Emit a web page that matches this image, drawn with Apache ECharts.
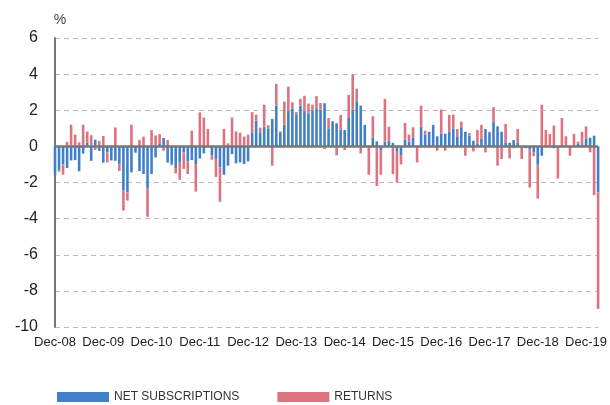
<!DOCTYPE html>
<html>
<head>
<meta charset="utf-8">
<script src="https://cdn.jsdelivr.net/npm/echarts@6.0.0/dist/echarts.min.js"></script>
<style>
  html, body { margin: 0; padding: 0; background: #fff; }
  #chart { width: 610px; height: 405px; }
</style>
</head>
<body>
<div id="chart"></div>
<script>
// monthly, Dec-08 .. Mar-20
const MONTHS = ['Jan', 'Feb', 'Mar', 'Apr', 'May', 'Jun', 'Jul', 'Aug', 'Sep', 'Oct', 'Nov', 'Dec']
const months = []
for (let k = 0; k < 136; k++) {
  const m = (11 + k) % 12
  const y = 8 + Math.floor((11 + k) / 12)
  months.push(MONTHS[m] + '-' + String(y).padStart(2, '0'))
}

const netSubscriptions = [
  -1.6, -1.3, -1.0, -1.2, -0.78, -0.76, -1.38, -0.4, 0.22, -0.8, 0.37, -0.25,
  -0.9, -0.34, -0.78, -0.8, -1.0, -2.45, -2.55, -1.44, -0.35, -1.37, -1.53, -2.35,
  -1.53, -0.61, 0.13, 0.46, -0.9, -1.0, -1.2, -0.9, -0.33, -0.83, -0.76, -0.98,
  -0.67, -0.39, 0, -0.48, -0.7, -1.17, -1.57, -1.07, -0.43, -0.94, -0.89, -0.98,
  -0.83, 0.78, 1.43, 0.78, 1.09, 1.0, 1.52, 2.26, 0.78, 1.2, 1.98, 2.1,
  1.74, 2.26, 2.0, 1.83, 2.0, 2.07, 2.04, 2.39, 1.0, 1.39, 1.28, 0.91,
  0.91, 1.57, 2.04, 2.5, 2.26, 1.19, 0, 0.5, 0.28, -0.24, 0.26, 0.31,
  0.19, -0.3, -0.48, 0.37, 0.26, 0.5, 0, 1.09, 0.65, 0.81, 1.19, 0.56,
  0.7, 0.7, 0.83, 1.0, 0.56, 1.06, 0.81, 0.6, 0.31, 0.17, 0.41, 0.96,
  0.74, 1.37, 1.11, 0.81, 0.22, 0.2, 0.35, 0.22, 0, -0.1, -0.18, -0.32,
  -1.02, -0.52, 0, 0.05, -0.1, 0, 0, 0, 0, 0, 0.13, 0,
  0.44, 0.48, 0.59, -2.55
]

const returns = [
  0, -0.1, -0.57, 0.26, 1.2, 0.65, 0.22, 1.2, 0.6, 0.62, -0.2, 0.3,
  0.58, -0.55, 0, 1.05, -0.36, -1.1, -0.45, 1.2, 0, 0.36, 0.54, -1.55,
  0.9, 0.6, 0.55, -0.24, 0.35, -0.05, -0.3, -0.95, -0.92, -0.7, 0.87, -1.52,
  1.88, 1.6, 0.96, -0.26, -1.0, -1.9, 0.96, 0.17, 1.6, 0.83, 0.76, 0.54,
  0.65, 1.12, 0.33, 0.26, 1.22, 0.17, -1.07, 1.2, 0.05, 1.28, 1.33, 0.34,
  0.16, 0.37, 0.8, 0.54, 0.31, 0.71, 0.36, -0.15, 0.57, 0, -0.5, 0.83,
  -0.2, 1.28, 1.94, 0.69, -0.39, 0, -1.57, 1.17, -2.2, -1.33, 2.37, 0.78,
  -1.54, -1.7, -0.52, 0.93, 0.39, 0.56, -0.89, 1.17, 0.22, 0, 0, -0.24,
  1.34, -0.24, 0.91, 0.76, 0.4, 0.31, -0.52, 0.14, -0.28, 0.74, 0.78, -0.33,
  0.07, 0.8, -1.07, -0.7, 1.02, -0.67, -0.1, 0.74, -0.7, 0, -2.1, -0.22,
  -1.87, 2.31, 0.91, 0.64, 1.15, -1.78, 1.57, 0.56, -0.52, 0.69, 0.13, 0.81,
  0.67, -0.33, -2.7, -6.45
]

const BLUE = '#3f80c8'
const RED = '#de7380'
const FONT = 'Liberation Sans, Arial, sans-serif'

const chart = echarts.init(document.getElementById('chart'), null, { renderer: 'canvas' })

chart.setOption({
  animation: false,
  backgroundColor: '#fff',
  grid: { left: 55, right: 10, top: 38, bottom: 78 },
  legend: {
    left: 57, top: 391, padding: 0,
    icon: 'rect', itemWidth: 52, itemHeight: 10, itemGap: 38,
    textStyle: { fontFamily: FONT, fontSize: 12, color: '#333' },
    data: ['NET SUBSCRIPTIONS', 'RETURNS']
  },
  xAxis: {
    type: 'category',
    data: months,
    boundaryGap: false,
    axisLine: { show: false, onZero: false },
    axisTick: { show: false },
    splitLine: { show: false },
    axisLabel: { interval: 11, margin: 9, fontFamily: FONT, fontSize: 13, color: '#222' }
  },
  yAxis: {
    type: 'value',
    min: -10, max: 6, interval: 2,
    name: '%',
    nameGap: 11,
    nameTextStyle: { fontFamily: FONT, fontSize: 14, color: '#444', padding: [0, 0, 0, 10] },
    axisLine: { show: true, lineStyle: { color: '#777', width: 2 } },
    axisTick: { show: false },
    axisLabel: { margin: 17, fontFamily: FONT, fontSize: 16, color: '#222' },
    splitLine: { lineStyle: { color: '#bbb', type: [5, 4], width: 1 } }
  },
  series: [
    {
      name: 'NET SUBSCRIPTIONS',
      type: 'bar',
      stack: 'flow',
      barWidth: 2.6,
      itemStyle: { color: BLUE },
      data: netSubscriptions,
      markLine: {
        silent: true,
        symbol: 'none',
        label: { show: false },
        lineStyle: { color: '#777', type: 'solid', width: 2.5 },
        data: [{ yAxis: 0 }]
      }
    },
    {
      name: 'RETURNS',
      type: 'bar',
      stack: 'flow',
      barWidth: 2.6,
      itemStyle: { color: RED },
      data: returns
    }
  ]
})
</script>
</body>
</html>
